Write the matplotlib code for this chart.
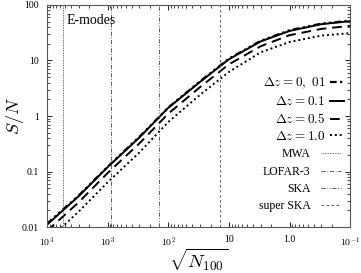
import numpy as np
import matplotlib
matplotlib.use('Agg')
import matplotlib.pyplot as plt
from matplotlib.ticker import FixedLocator, FixedFormatter, LogLocator, NullFormatter

plt.rcParams['font.family'] = ['Liberation Serif', 'DejaVu Serif']
plt.rcParams['mathtext.fontset'] = 'cm'

# sqrt(N_100) sample points and S/N
sqrt_n = [1e4, 3e3, 1e3, 300, 100, 30, 10, 3, 1, 0.3, 0.1]
sn_001 = [0.0115, 0.037, 0.122, 0.42, 1.42, 4.2, 10.8, 22.5, 35, 46, 52]
sn_01 = [0.011, 0.036, 0.12, 0.41, 1.4, 4.1, 10.5, 22, 34, 45, 51]
sn_05 = [0.0085, 0.028, 0.094, 0.32, 1.1, 3.3, 8.5, 18, 28.5, 37, 42]
sn_10 = [0.0056, 0.019, 0.064, 0.22, 0.78, 2.4, 6.2, 14, 21.5, 28, 31]

experiments = ['MWA', 'LOFAR-3', 'SKA', 'super SKA']
exp_pos = [5450, 880, 141, 14]

xticks = [1e4, 1e3, 1e2, 10, 1, 0.1]
xticklabels = ['$10^4$', '$10^3$', '$10^2$', '10', '1.0', '$10^{-1}$']
yticks = [0.01, 0.1, 1, 10, 100]
yticklabels = ['0.01', '0.1', '1', '10', '100']

fig = plt.figure(figsize=(3.61, 2.73), dpi=100)
ax = fig.add_axes([0.130, 0.168, 0.840, 0.814])

l1, = ax.plot(sqrt_n, sn_001, color='black', lw=1.6, dashes=(3, 1.5, 1, 1.5, 1, 1.5))
l2, = ax.plot(sqrt_n, sn_01, color='black', lw=1.4, ls='-')
l3, = ax.plot(sqrt_n, sn_05, color='black', lw=1.4, dashes=(5, 3))
l4, = ax.plot(sqrt_n, sn_10, color='black', lw=1.4, dashes=(1, 1.5))

exp_styles = [dict(dashes=(1, 1)), dict(dashes=(5, 2, 1, 2)),
              dict(dashes=(5, 2, 1, 2, 1, 2)), dict(dashes=(3, 3))]
vh = []
for pos, st in zip(exp_pos, exp_styles):
    h = ax.axvline(pos, color='#444444', lw=0.6, **st)
    vh.append(h)

ax.set_xscale('log')
ax.set_yscale('log')
ax.set_xlim(1e4, 0.1)
ax.set_ylim(0.01, 100)

ax.xaxis.set_major_locator(FixedLocator(xticks))
ax.xaxis.set_major_formatter(FixedFormatter(xticklabels))
ax.yaxis.set_major_locator(FixedLocator(yticks))
ax.yaxis.set_major_formatter(FixedFormatter(yticklabels))
ax.xaxis.set_minor_locator(LogLocator(base=10, subs=np.arange(2, 10), numticks=20))
ax.yaxis.set_minor_locator(LogLocator(base=10, subs=np.arange(2, 10), numticks=20))
ax.xaxis.set_minor_formatter(NullFormatter())
ax.yaxis.set_minor_formatter(NullFormatter())
ax.tick_params(which='both', direction='in', top=True, right=True, labelsize=7, pad=6)
ax.tick_params(which='major', length=3.5, width=0.6)
ax.tick_params(which='minor', length=2, width=0.5)
for s in ax.spines.values():
    s.set_linewidth(0.8)
    s.set_color('#555555')

ax.set_xlabel(r'$\sqrt{N_{100}}$', fontsize=13.5)
ax.xaxis.set_label_coords(0.5, -0.088)
ax.set_ylabel(r'$S/N$', fontsize=13)
ax.yaxis.set_label_coords(-0.068, 0.5)

ax.text(0.063, 0.93, 'E-modes', transform=ax.transAxes, fontsize=10, va='center')

leg1 = ax.legend([l1, l2, l3, l4],
                 [r'$\Delta z = 0,\ 01$', r'$\Delta z = 0.1$', r'$\Delta z = 0.5$', r'$\Delta z = 1.0$'],
                 loc='upper right', bbox_to_anchor=(1.0, 0.71), frameon=False, markerfirst=False,
                 fontsize=9.5, handlelength=1.0, handletextpad=0.4, labelspacing=0.3,
                 borderaxespad=0.1)
ax.add_artist(leg1)
ax.legend(vh, experiments, loc='lower right', bbox_to_anchor=(0.99, 0.04), frameon=False,
          markerfirst=False, fontsize=8.5, handlelength=1.7, handletextpad=0.9,
          labelspacing=0.45, borderaxespad=0.1)

fig.savefig('out.png', dpi=100)
